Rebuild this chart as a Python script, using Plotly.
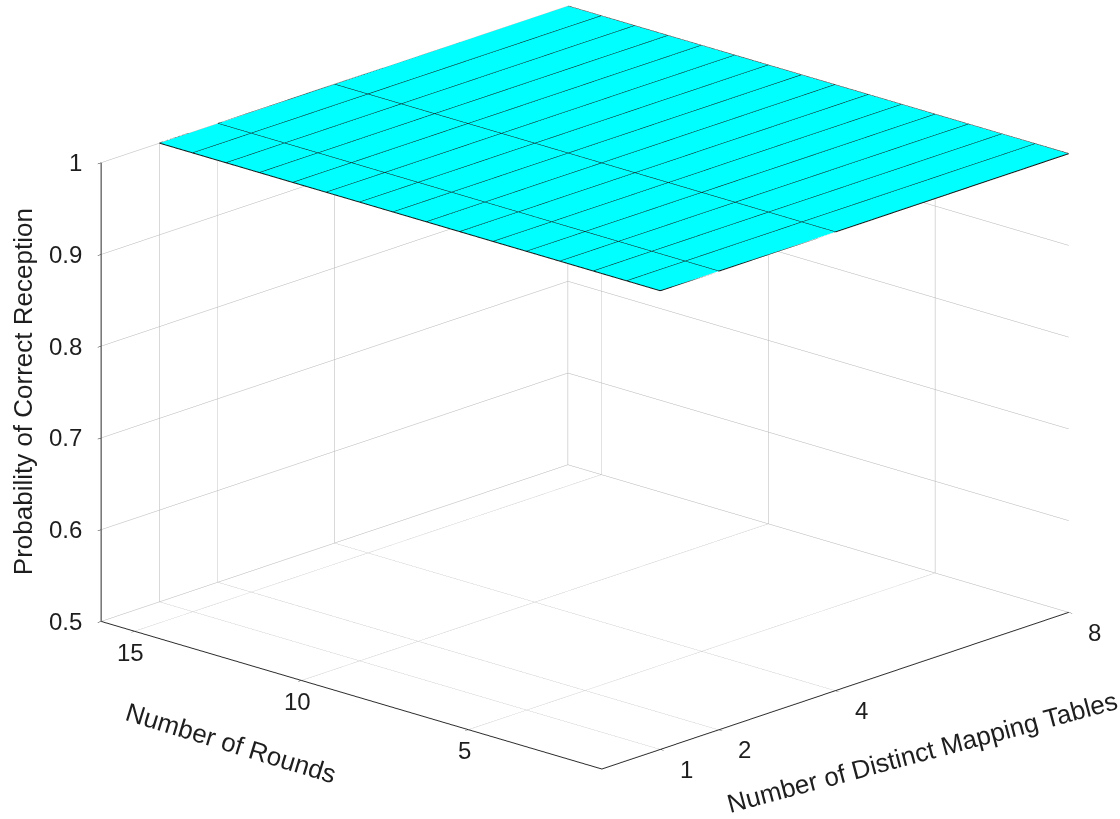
import numpy as np
import plotly.graph_objects as go

# Data: probability of correct reception over the parameter grid
mapping_tables = [1, 2, 4, 8]
rounds = list(range(1, 17))
prob = [[1.0, 1.0, 1.0, 1.0] for _ in rounds]  # rows = rounds, cols = mapping tables

x_ticks = [1, 2, 4, 8]
y_ticks = [5, 10, 15]
z_ticks = [0.5, 0.6, 0.7, 0.8, 0.9, 1.0]
z_tick_text = ["0.5", "0.6", "0.7", "0.8", "0.9", "1"]

x_range = [0, 8]
y_range = [1, 16]
z_range = [0.5, 1.0]

x_title = "Number of Distinct Mapping Tables"
y_title = "Number of Rounds"
z_title = "Probability of Correct Reception"

CYAN = "#00FFFF"
FONT = "Liberation Sans, Arial, sans-serif"
TXT = "#1e1e1e"
TICK_SIZE = 24
TITLE_SIZE = 26

fig = go.Figure()

fig.add_trace(go.Surface(
    x=mapping_tables, y=rounds, z=prob,
    colorscale=[[0, CYAN], [1, CYAN]], showscale=False,
    lighting=dict(ambient=1.0, diffuse=0.0, specular=0.0, fresnel=0.0),
    hoverinfo="skip",
))

# Mesh edges of the surface
lx, ly, lz = [], [], []
for j, yv in enumerate(rounds):
    for i, xv in enumerate(mapping_tables):
        lx.append(xv); ly.append(yv); lz.append(prob[j][i])
    lx.append(None); ly.append(None); lz.append(None)
for i, xv in enumerate(mapping_tables):
    for j, yv in enumerate(rounds):
        lx.append(xv); ly.append(yv); lz.append(prob[j][i])
    lx.append(None); ly.append(None); lz.append(None)
fig.add_trace(go.Scatter3d(
    x=lx, y=ly, z=lz, mode="lines",
    line=dict(color="#141414", width=2),
    hoverinfo="skip", showlegend=False,
))

axis_common = dict(
    showbackground=False,
    showgrid=True, gridcolor="#b4b4b4", gridwidth=1,
    showline=True, linecolor="#2a2a2a", linewidth=2,
    ticks="outside", tickcolor="#2a2a2a", ticklen=5,
    showticklabels=False,
    zeroline=False, showspikes=False,
    title=dict(text=""),
)

# Tick labels and axis titles, anchored to data coordinates
ann = []
for v in z_ticks:
    ann.append(dict(x=x_range[0], y=y_range[1], z=v,
                    text=z_tick_text[z_ticks.index(v)],
                    xanchor="right", yanchor="middle", xshift=-17, yshift=0,
                    font=dict(family=FONT, size=TICK_SIZE, color=TXT)))
for v in y_ticks:
    ann.append(dict(x=x_range[0], y=v, z=z_range[0], text=str(v),
                    xanchor="center", yanchor="middle", xshift=-4, yshift=-21,
                    font=dict(family=FONT, size=TICK_SIZE, color=TXT)))
for v in x_ticks:
    ann.append(dict(x=v, y=y_range[0], z=z_range[0], text=str(v),
                    xanchor="center", yanchor="middle", xshift=26, yshift=-20,
                    font=dict(family=FONT, size=TICK_SIZE, color=TXT)))
ann.append(dict(x=x_range[0], y=12, z=z_range[0], text=y_title,
                textangle=17, xanchor="center", yanchor="middle",
                xshift=-4, yshift=-82,
                font=dict(family=FONT, size=TITLE_SIZE, color=TXT)))
ann.append(dict(x=5.5, y=y_range[0], z=z_range[0], text=x_title,
                textangle=-15, xanchor="center", yanchor="middle",
                xshift=0, yshift=-91,
                font=dict(family=FONT, size=TITLE_SIZE, color=TXT)))
ann.append(dict(x=x_range[0], y=y_range[1], z=0.75, text=z_title,
                textangle=-90, xanchor="center", yanchor="middle",
                xshift=-78, yshift=0,
                font=dict(family=FONT, size=TITLE_SIZE, color=TXT)))
for a in ann:
    a["showarrow"] = False

# Orthographic view: azimuth ~223 deg, elevation ~18 deg
view_dir = np.array([-0.6926, -0.6491, 0.3145])
cam_center = np.array([-0.0539, 0.0329, -0.0509])
cam_eye = cam_center + 2.0 * view_dir

fig.update_layout(
    width=1120, height=819,
    margin=dict(l=0, r=0, t=0, b=0),
    paper_bgcolor="white",
    font=dict(family=FONT, size=TICK_SIZE, color=TXT),
    showlegend=False,
    scene=dict(
        domain=dict(x=[0, 1], y=[0, 1]),
        xaxis=dict(axis_common, range=x_range, tickvals=x_ticks),
        yaxis=dict(axis_common, range=y_range, tickvals=y_ticks),
        zaxis=dict(axis_common, range=z_range, tickvals=z_ticks),
        aspectmode="manual",
        aspectratio=dict(x=1.667, y=1.676, z=1.180),
        annotations=ann,
        camera=dict(
            projection=dict(type="orthographic"),
            up=dict(x=0, y=0, z=1),
            center=dict(x=cam_center[0], y=cam_center[1], z=cam_center[2]),
            eye=dict(x=cam_eye[0], y=cam_eye[1], z=cam_eye[2]),
        ),
    ),
)

fig.write_html("out.html")
